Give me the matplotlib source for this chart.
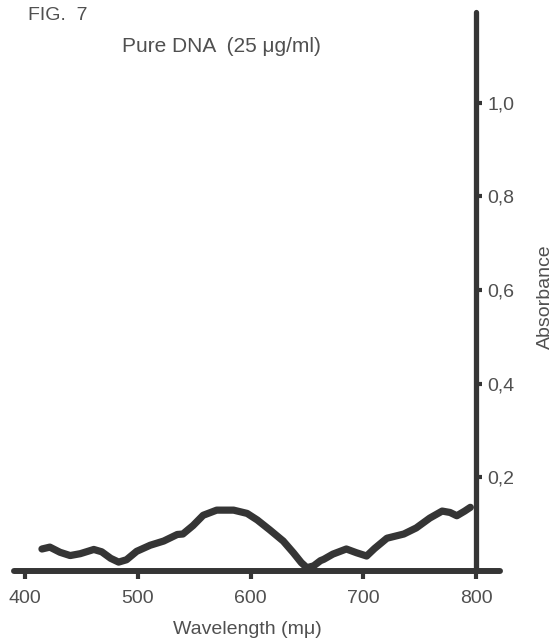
import matplotlib
matplotlib.use("Agg")
import matplotlib.pyplot as plt
from matplotlib.ticker import FuncFormatter

plt.rcParams['font.family'] = ['Liberation Sans', 'DejaVu Sans']

# Absorbance spectrum of pure DNA
wavelength = [415, 422, 431, 440, 449, 461, 468, 476, 483, 490, 499, 511,
              523, 535, 540, 549, 558, 570, 585, 597, 606, 617, 629, 638,
              645, 650, 656, 662, 665, 673, 685, 694, 703, 710, 721, 736,
              747, 759, 770, 777, 783, 790, 795]
absorbance = [0.047, 0.051, 0.040, 0.033, 0.037, 0.046, 0.041, 0.027, 0.019,
              0.024, 0.042, 0.055, 0.064, 0.078, 0.079, 0.097, 0.119, 0.130,
              0.130, 0.123, 0.109, 0.088, 0.064, 0.039, 0.018, 0.007, 0.011,
              0.022, 0.025, 0.036, 0.047, 0.039, 0.032, 0.048, 0.070, 0.079,
              0.092, 0.113, 0.128, 0.125, 0.118, 0.128, 0.136]

x_ticks = [400, 500, 600, 700, 800]
y_ticks = [0.2, 0.4, 0.6, 0.8, 1.0]

ink = '#353535'
text_col = '#505050'

fig = plt.figure(figsize=(5.53, 6.42), dpi=100)
fig.patch.set_facecolor('white')
ax = fig.add_axes([14 / 553, 71 / 642, 486 / 553, 559 / 642])
ax.set_xlim(390.2, 821.3)
ax.set_ylim(0, 1.194)

ax.plot(wavelength, absorbance, color=ink, lw=5.2, solid_capstyle='round',
        solid_joinstyle='round', clip_on=False, zorder=3)

# axes drawn like the original: baseline at 0 and a vertical axis at 800
for s in ['left', 'top']:
    ax.spines[s].set_visible(False)
ax.spines['bottom'].set_linewidth(4.3)
ax.spines['bottom'].set_color(ink)
ax.spines['bottom'].set_capstyle('round')
ax.spines['right'].set_position(('data', 800))
ax.spines['right'].set_linewidth(3.8)
ax.spines['right'].set_color(ink)
ax.spines['right'].set_capstyle('round')

ax.set_xticks(x_ticks)
ax.set_yticks(y_ticks)
ax.yaxis.tick_right()
ax.yaxis.set_major_formatter(FuncFormatter(lambda v, p: f"{v:.1f}".replace('.', ',')))
ax.tick_params(axis='x', direction='out', length=6, width=3, pad=8,
               color=ink, labelcolor=text_col, labelsize=14)
ax.tick_params(axis='y', direction='out', length=4.5, width=3, pad=3.5,
               color=ink, labelcolor=text_col, labelsize=14)

fig.text(28 / 553, 1 - 15 / 642, 'FIG.  7', ha='left', va='center',
         fontsize=14, color=text_col)
fig.text(221 / 553, 1 - 46 / 642, 'Pure DNA  (25 \u03bcg/ml)', ha='center',
         va='center', fontsize=15, color=text_col)
fig.text(247 / 553, 1 - 629 / 642, 'Wavelength (m\u03bc)', ha='center',
         va='center', fontsize=14, color=text_col)
fig.text(545 / 553, 1 - 297 / 642, 'Absorbance', ha='center', va='center',
         rotation=90, fontsize=14, color=text_col)

fig.savefig('out.png', dpi=100, facecolor='white')
